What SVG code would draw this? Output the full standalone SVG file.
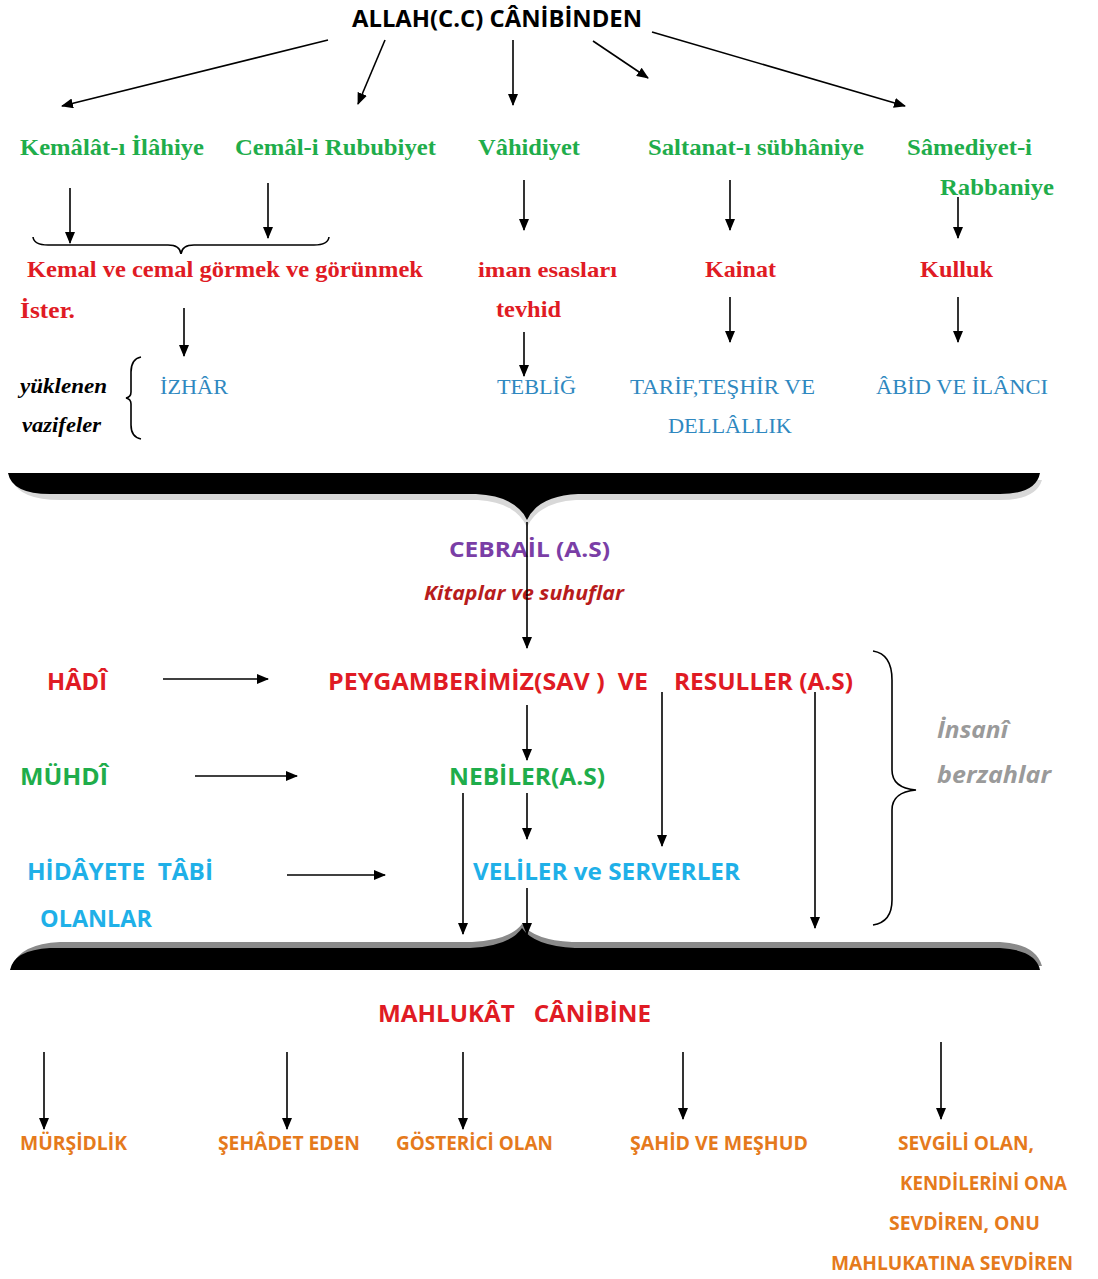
<svg xmlns="http://www.w3.org/2000/svg" width="1098" height="1279" viewBox="0 0 1098 1279">
<defs>
<marker id="ah" markerUnits="userSpaceOnUse" markerWidth="12" markerHeight="10" viewBox="0 0 12 10" refX="11" refY="5" orient="auto"><path d="M0,0 L12,5 L0,10 Z" fill="#000"/></marker>
</defs>
<style>
text{white-space:pre}
.c{fill:none;stroke:#000;stroke-width:1.6}
.sf{font-family:"Liberation Serif",serif;font-weight:bold}
.sr{font-family:"Liberation Serif",serif}
.ss{font-family:"Open Sans","Liberation Sans",sans-serif;font-weight:bold}
.g{fill:#1fad4b}
.r{fill:#e01b24}
.b{fill:#2f88c0}
.o{fill:#e57a1c}
.cy{fill:#1fb0e8}
.gr{fill:#9a9a9a}
</style>
<rect width="1098" height="1279" fill="#fff"/>

<g id="title"><text class="ss" x="352" y="27" font-size="24" textLength="290" lengthAdjust="spacingAndGlyphs">ALLAH(C.C) CÂNİBİNDEN</text></g>

<g id="kemalat"><text class="sf g" x="20" y="155" font-size="23" textLength="184" lengthAdjust="spacingAndGlyphs">Kemâlât-ı İlâhiye</text></g>
<g id="cemal"><text class="sf g" x="235" y="155" font-size="23" textLength="201" lengthAdjust="spacingAndGlyphs">Cemâl-i Rububiyet</text></g>
<g id="vahidiyet"><text class="sf g" x="478" y="155" font-size="23" textLength="102" lengthAdjust="spacingAndGlyphs">Vâhidiyet</text></g>
<g id="saltanat"><text class="sf g" x="648" y="155" font-size="23" textLength="216" lengthAdjust="spacingAndGlyphs">Saltanat-ı sübhâniye</text></g>
<g id="samediyet"><text class="sf g" x="907" y="155" font-size="23" textLength="125" lengthAdjust="spacingAndGlyphs">Sâmediyet-i</text><text class="sf g" x="940" y="195" font-size="23" textLength="114" lengthAdjust="spacingAndGlyphs">Rabbaniye</text></g>

<g id="kemal-cemal"><text class="sf r" x="27" y="277" font-size="23" textLength="396" lengthAdjust="spacingAndGlyphs">Kemal ve cemal görmek ve görünmek</text><text class="sf r" x="20" y="318" font-size="23" textLength="55" lengthAdjust="spacingAndGlyphs">İster.</text></g>
<g id="iman"><text class="sf r" x="478" y="277" font-size="21" textLength="139" lengthAdjust="spacingAndGlyphs">iman esasları</text><text class="sf r" x="496" y="317" font-size="23" textLength="65" lengthAdjust="spacingAndGlyphs">tevhid</text></g>
<g id="kainat"><text class="sf r" x="705" y="277" font-size="23" textLength="71" lengthAdjust="spacingAndGlyphs">Kainat</text></g>
<g id="kulluk"><text class="sf r" x="920" y="277" font-size="23" textLength="73" lengthAdjust="spacingAndGlyphs">Kulluk</text></g>

<g id="vazifeler"><text class="sf" x="20" y="393" font-size="21" font-style="italic" textLength="87" lengthAdjust="spacingAndGlyphs">yüklenen</text><text class="sf" x="22" y="432" font-size="21" font-style="italic" textLength="79" lengthAdjust="spacingAndGlyphs">vazifeler</text></g>
<g id="izhar"><text class="sr b" x="160" y="394" font-size="22" textLength="68" lengthAdjust="spacingAndGlyphs">İZHÂR</text></g>
<g id="teblig"><text class="sr b" x="497" y="394" font-size="22" textLength="79" lengthAdjust="spacingAndGlyphs">TEBLİĞ</text></g>
<g id="tarif"><text class="sr b" x="630" y="394" font-size="22" textLength="185" lengthAdjust="spacingAndGlyphs">TARİF,TEŞHİR VE</text><text class="sr b" x="668" y="433" font-size="22" textLength="124" lengthAdjust="spacingAndGlyphs">DELLÂLLIK</text></g>
<g id="abid"><text class="sr b" x="876" y="394" font-size="22" textLength="172" lengthAdjust="spacingAndGlyphs">ÂBİD VE İLÂNCI</text></g>

<g id="brace1">
<path d="M12,480 Q20,500 60,500 L478,500 Q515,502 527,527 Q539,502 576,500 L1000,500 Q1036,500 1042,480 Z" fill="#d8d8d8"/>
<path d="M8,473 L1040,473 Q1036,494 1000,494 L578,494 Q538,496 527,520 Q516,496 476,494 L50,494 Q12,494 8,473 Z" fill="#000"/>
</g>

<g id="cebrail"><text class="ss" x="449" y="557" font-size="22" fill="#7a3ea6" textLength="161" lengthAdjust="spacingAndGlyphs">CEBRAİL (A.S)</text></g>
<g id="kitaplar"><text class="ss" x="424" y="600" font-size="20" font-style="italic" fill="#b81c1c" textLength="200" lengthAdjust="spacingAndGlyphs">Kitaplar ve suhuflar</text></g>

<g id="hadi"><text class="ss r" x="47" y="690" font-size="24" textLength="60" lengthAdjust="spacingAndGlyphs">HÂDÎ</text></g>
<g id="peygamber"><text class="ss r" x="328" y="690" font-size="24" textLength="320" lengthAdjust="spacingAndGlyphs">PEYGAMBERİMİZ(SAV )  VE</text><text class="ss r" x="674" y="690" font-size="24" textLength="179" lengthAdjust="spacingAndGlyphs">RESULLER (A.S)</text></g>
<g id="muhdi"><text class="ss g" x="20" y="785" font-size="24" textLength="88" lengthAdjust="spacingAndGlyphs">MÜHDÎ</text></g>
<g id="nebiler"><text class="ss g" x="449" y="785" font-size="24" textLength="156" lengthAdjust="spacingAndGlyphs">NEBİLER(A.S)</text></g>
<g id="hidayet"><text class="ss cy" x="27" y="880" font-size="24" textLength="186" lengthAdjust="spacingAndGlyphs">HİDÂYETE  TÂBİ</text><text class="ss cy" x="40" y="927" font-size="24" textLength="112" lengthAdjust="spacingAndGlyphs">OLANLAR</text></g>
<g id="veliler"><text class="ss cy" x="473" y="880" font-size="24" textLength="267" lengthAdjust="spacingAndGlyphs">VELİLER ve SERVERLER</text></g>

<g id="insani"><text class="ss gr" x="937" y="738" font-size="23" font-style="italic" textLength="71" lengthAdjust="spacingAndGlyphs">İnsanî</text><text class="ss gr" x="937" y="783" font-size="23" font-style="italic" textLength="114" lengthAdjust="spacingAndGlyphs">berzahlar</text></g>

<g id="brace2">
<path d="M12,966 Q20,944 60,942 L472,942 Q510,940 522,924 Q534,940 572,942 L1000,942 Q1036,944 1042,966 Z" fill="#8a8a8a"/>
<path d="M10,970 L1040,970 Q1036,950 1000,948 L575,948 Q534,946 522,928 Q510,946 470,948 L50,948 Q14,950 10,970 Z" fill="#000"/>
</g>

<g id="mahlukat"><text class="ss r" x="378" y="1022" font-size="24" textLength="273" lengthAdjust="spacingAndGlyphs">MAHLUKÂT   CÂNİBİNE</text></g>
<g id="bottom">
<text class="ss o" x="20" y="1150" font-size="19" textLength="107" lengthAdjust="spacingAndGlyphs">MÜRŞİDLİK</text>
<text class="ss o" x="218" y="1150" font-size="19" textLength="142" lengthAdjust="spacingAndGlyphs">ŞEHÂDET EDEN</text>
<text class="ss o" x="396" y="1150" font-size="19" textLength="157" lengthAdjust="spacingAndGlyphs">GÖSTERİCİ OLAN</text>
<text class="ss o" x="630" y="1150" font-size="19" textLength="178" lengthAdjust="spacingAndGlyphs">ŞAHİD VE MEŞHUD</text>
<text class="ss o" x="898" y="1150" font-size="19" textLength="136" lengthAdjust="spacingAndGlyphs">SEVGİLİ OLAN,</text>
<text class="ss o" x="900" y="1190" font-size="19" textLength="167" lengthAdjust="spacingAndGlyphs">KENDİLERİNİ ONA</text>
<text class="ss o" x="889" y="1230" font-size="19" textLength="151" lengthAdjust="spacingAndGlyphs">SEVDİREN, ONU</text>
<text class="ss o" x="831" y="1270" font-size="19" textLength="242" lengthAdjust="spacingAndGlyphs">MAHLUKATINA SEVDİREN</text>
</g>

<g id="connectors">
<line class="c" x1="328" y1="40" x2="62" y2="106" marker-end="url(#ah)"/>
<line class="c" x1="385" y1="40" x2="358" y2="104" marker-end="url(#ah)"/>
<line class="c" x1="513" y1="40" x2="513" y2="105" marker-end="url(#ah)"/>
<line class="c" x1="593" y1="41" x2="648" y2="78" marker-end="url(#ah)"/>
<line class="c" x1="652" y1="32" x2="905" y2="106" marker-end="url(#ah)"/>
<line class="c" x1="70" y1="188" x2="70" y2="243" marker-end="url(#ah)"/>
<line class="c" x1="268" y1="183" x2="268" y2="238" marker-end="url(#ah)"/>
<line class="c" x1="524" y1="180" x2="524" y2="230" marker-end="url(#ah)"/>
<line class="c" x1="730" y1="180" x2="730" y2="230" marker-end="url(#ah)"/>
<line class="c" x1="958" y1="197" x2="958" y2="238" marker-end="url(#ah)"/>
<path class="c" d="M33,237 Q34,245 48,245 L168,245 Q180,245 181,254 Q182,245 194,245 L314,245 Q328,245 329,237"/>
<line class="c" x1="184" y1="308" x2="184" y2="356" marker-end="url(#ah)"/>
<line class="c" x1="524" y1="332" x2="524" y2="376" marker-end="url(#ah)"/>
<line class="c" x1="730" y1="297" x2="730" y2="342" marker-end="url(#ah)"/>
<line class="c" x1="958" y1="297" x2="958" y2="342" marker-end="url(#ah)"/>
<path class="c" d="M141,357 Q131,359 131,372 L131,392 Q131,397 126,398 Q131,399 131,404 L131,425 Q131,437 141,439"/>
<line class="c" x1="527" y1="522" x2="527" y2="648" marker-end="url(#ah)"/>
<line class="c" x1="163" y1="679" x2="268" y2="679" marker-end="url(#ah)"/>
<line class="c" x1="195" y1="776" x2="297" y2="776" marker-end="url(#ah)"/>
<line class="c" x1="287" y1="875" x2="385" y2="875" marker-end="url(#ah)"/>
<line class="c" x1="527" y1="705" x2="527" y2="760" marker-end="url(#ah)"/>
<line class="c" x1="662" y1="692" x2="662" y2="846" marker-end="url(#ah)"/>
<line class="c" x1="815" y1="692" x2="815" y2="928" marker-end="url(#ah)"/>
<line class="c" x1="463" y1="793" x2="463" y2="934" marker-end="url(#ah)"/>
<line class="c" x1="527" y1="793" x2="527" y2="839" marker-end="url(#ah)"/>
<line class="c" x1="527" y1="888" x2="527" y2="934" marker-end="url(#ah)"/>
<path class="c" d="M873,651 Q892,654 892,680 L892,770 Q892,788 916,790 Q892,792 892,810 L892,900 Q892,922 873,925"/>
<line class="c" x1="44" y1="1052" x2="44" y2="1129" marker-end="url(#ah)"/>
<line class="c" x1="287" y1="1052" x2="287" y2="1129" marker-end="url(#ah)"/>
<line class="c" x1="463" y1="1052" x2="463" y2="1129" marker-end="url(#ah)"/>
<line class="c" x1="683" y1="1052" x2="683" y2="1119" marker-end="url(#ah)"/>
<line class="c" x1="941" y1="1042" x2="941" y2="1119" marker-end="url(#ah)"/>
</g>
</svg>
